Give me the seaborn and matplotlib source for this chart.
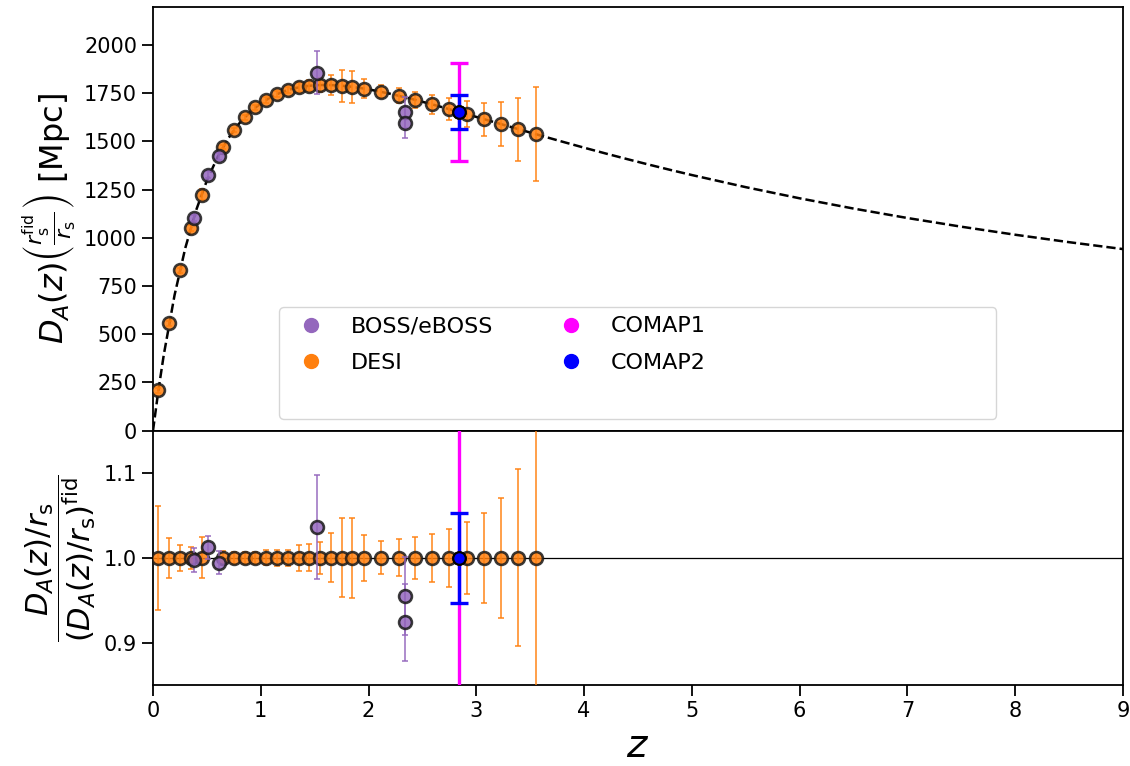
import numpy as np
import pandas as pd
import matplotlib
matplotlib.use("Agg")
import matplotlib.pyplot as plt
from matplotlib.lines import Line2D
import seaborn as sns

# Fiducial flat LCDM angular diameter distance [Mpc]
fid_z = [0.0, 0.05, 0.1, 0.2, 0.3, 0.4, 0.5, 0.6, 0.7, 0.8, 0.9, 1.0,
         1.1, 1.2, 1.3, 1.4, 1.5, 1.6, 1.7, 1.8, 1.9, 2.0, 2.2, 2.4, 2.6,
         2.8, 3.0, 3.2, 3.4, 3.6, 3.8, 4.0, 4.2, 4.4, 4.6, 4.8, 5.0, 5.5,
         6.0, 6.5, 7.0, 7.5, 8.0, 8.5, 9.0]
fid_da = [0.0, 208.4, 393.0, 702.7, 947.9, 1142.7, 1297.4, 1420.2, 1517.2,
          1593.4, 1652.6, 1698.1, 1732.3, 1757.2, 1774.6, 1785.7, 1791.6,
          1793.2, 1791.3, 1786.6, 1779.4, 1770.3, 1747.6, 1720.6, 1690.8,
          1659.4, 1627.2, 1594.6, 1562.2, 1530.1, 1498.5, 1467.6, 1437.5,
          1408.3, 1379.9, 1352.3, 1325.7, 1262.8, 1205.0, 1151.8, 1102.8,
          1057.7, 1016.0, 977.4, 941.6]

# DESI forecast (BGS, galaxies/QSO, Lyman-alpha bins)
desi_z = [0.05, 0.15, 0.25, 0.35, 0.45, 0.65, 0.75, 0.85, 0.95, 1.05, 1.15,
          1.25, 1.35, 1.45, 1.55, 1.65, 1.75, 1.85, 1.96, 2.12, 2.28, 2.43,
          2.59, 2.75, 2.91, 3.07, 3.23, 3.39, 3.55]
desi_da = [208.4, 556.9, 832.4, 1050.9, 1224.5, 1471.5, 1557.6, 1624.9,
           1676.9, 1716.5, 1745.8, 1766.8, 1780.8, 1789.2, 1792.9, 1792.7,
           1789.3, 1783.3, 1774.2, 1757.3, 1737.2, 1716.3, 1692.4, 1667.7,
           1641.8, 1615.8, 1589.7, 1563.8, 1538.0]
desi_ratio = [1.0, 1.0, 1.0, 1.0, 1.0, 1.0, 1.0, 1.0, 1.0, 1.0, 1.0, 1.0,
              1.0, 1.0, 1.0, 1.0, 1.0, 1.0, 1.0, 1.0, 1.0, 1.0, 1.0, 1.0,
              1.0, 1.0, 1.0, 1.0, 1.0]
desi_frac_err = [0.0612, 0.0233, 0.0150, 0.0130, 0.0240, 0.0082, 0.0069,
                 0.0069, 0.0073, 0.0089, 0.0094, 0.0096, 0.0150, 0.0159,
                 0.0190, 0.0288, 0.0464, 0.0471, 0.0269, 0.0194, 0.0220,
                 0.0245, 0.0286, 0.0341, 0.0423, 0.0529, 0.0710, 0.1045,
                 0.1590]

# BOSS / eBOSS measurements
boss_z = [0.38, 0.51, 0.61, 1.52, 2.34, 2.34]
boss_da = [1104.5, 1327.4, 1422.5, 1857.6, 1650.3, 1597.4]
boss_da_err = [15.8, 18.0, 19.6, 110.5, 80.0, 79.0]
boss_ratio = [0.9976, 1.0125, 0.9941, 1.0365, 0.9545, 0.9239]
boss_ratio_err = [0.0143, 0.0137, 0.0137, 0.0616, 0.0460, 0.0455]

# COMAP forecasts
comap_names = ["COMAP1", "COMAP2"]
comap_z = [2.84, 2.84]
comap_da = [1653.0, 1653.0]
comap_da_err = [256.5, 87.0]
comap_ratio = [1.0, 1.0]
comap_ratio_err = [0.155, 0.053]

sns.set_style("ticks", {"text.color": "k", "axes.labelcolor": "k",
                        "xtick.color": "k", "ytick.color": "k",
                        "axes.edgecolor": "k"})
plt.rcParams["font.family"] = ["DejaVu Sans"]
plt.rcParams["mathtext.fontset"] = "dejavusans"

C_BOSS = "tab:purple"
C_DESI = "tab:orange"
C_COMAP = ["#ff00ff", "#0000ff"]

fig, (ax1, ax2) = plt.subplots(
    2, 1, sharex=True, figsize=(11.3, 7.66), dpi=100,
    gridspec_kw={"height_ratios": [5, 3], "hspace": 0.0})
fig.subplots_adjust(left=0.1354, right=0.9938, top=0.9915, bottom=0.1057)

# fiducial curve
sns.lineplot(x=fid_z, y=fid_da, ax=ax1, color="k", lw=1.8,
             linestyle="--", zorder=1)

def draw_set(ax, z, y, yerr, color, zbase):
    ax.errorbar(z, y, yerr=yerr, fmt="none", ecolor=color, elinewidth=1.4,
                capsize=2.5, capthick=1.4, alpha=0.75, zorder=zbase)
    sns.scatterplot(x=z, y=y, ax=ax, color=color, s=85, edgecolor="#1a1a1a",
                    linewidth=1.9, alpha=0.85, zorder=zbase + 1, legend=False)

desi_err_top = [d * f for d, f in zip(desi_da, desi_frac_err)]
draw_set(ax1, desi_z, desi_da, desi_err_top, C_DESI, 3)
draw_set(ax1, boss_z, boss_da, boss_da_err, C_BOSS, 5)
draw_set(ax2, desi_z, desi_ratio, desi_frac_err, C_DESI, 3)
draw_set(ax2, boss_z, boss_ratio, boss_ratio_err, C_BOSS, 5)

for i in range(2):
    for ax, y, e in ((ax1, comap_da[i], comap_da_err[i]),
                     (ax2, comap_ratio[i], comap_ratio_err[i])):
        ax.errorbar([comap_z[i]], [y], yerr=[e], fmt="none",
                    ecolor=C_COMAP[i], elinewidth=2.4, capsize=6.5,
                    capthick=2.4, zorder=8 + i)
        ax.plot([comap_z[i]], [y], "o", color=C_COMAP[i], ms=9, mec="k",
                mew=1.5, zorder=10 + i)

ax2.axhline(1.0, color="k", lw=0.9, zorder=1)

ax1.set_xlim(0, 9)
ax1.set_ylim(0, 2200)
ax1.set_yticks(np.arange(0, 2001, 250))
ax2.set_ylim(0.85, 1.15)
ax2.set_yticks([0.9, 1.0, 1.1])
ax2.set_xticks(range(0, 10))

for ax in (ax1, ax2):
    for sp in ax.spines.values():
        sp.set_linewidth(1.3)
        sp.set_visible(True)
    ax.tick_params(axis="both", direction="out", length=8, width=1.3,
                   labelsize=15)
ax1.tick_params(axis="x", length=0, labelbottom=False)

ax1.set_ylabel(r"$D_A(z)\left(\frac{r_{\rm s}^{\rm fid}}{r_{\rm s}}\right)$ [Mpc]",
               fontsize=23)
ax2.set_ylabel(r"$\dfrac{D_A(z)/r_{\rm s}}{(D_A(z)/r_{\rm s})^{\rm fid}}$",
               fontsize=22)
ax2.set_xlabel(r"$z$", fontsize=28)

def dot(color, label):
    return Line2D([], [], ls="", marker="o", color=color, ms=10, label=label)

def blank(label=" "):
    return Line2D([], [], ls="", marker="", label=label)

# three columns filled column-wise; the last column only widens the frame
pad = " " * 23
handles = [dot(C_BOSS, "BOSS/eBOSS"), dot(C_DESI, "DESI"), blank(),
           dot(C_COMAP[0], comap_names[0]), dot(C_COMAP[1], comap_names[1]),
           blank(), blank(pad), blank(pad), blank(pad)]
ax1.legend(handles=handles, ncol=3, fontsize=16, loc="lower left",
           bbox_to_anchor=(0.1303, 0.0283), borderaxespad=0.0,
           columnspacing=2.5, labelspacing=0.75)

fig.savefig("out.png", dpi=100)
